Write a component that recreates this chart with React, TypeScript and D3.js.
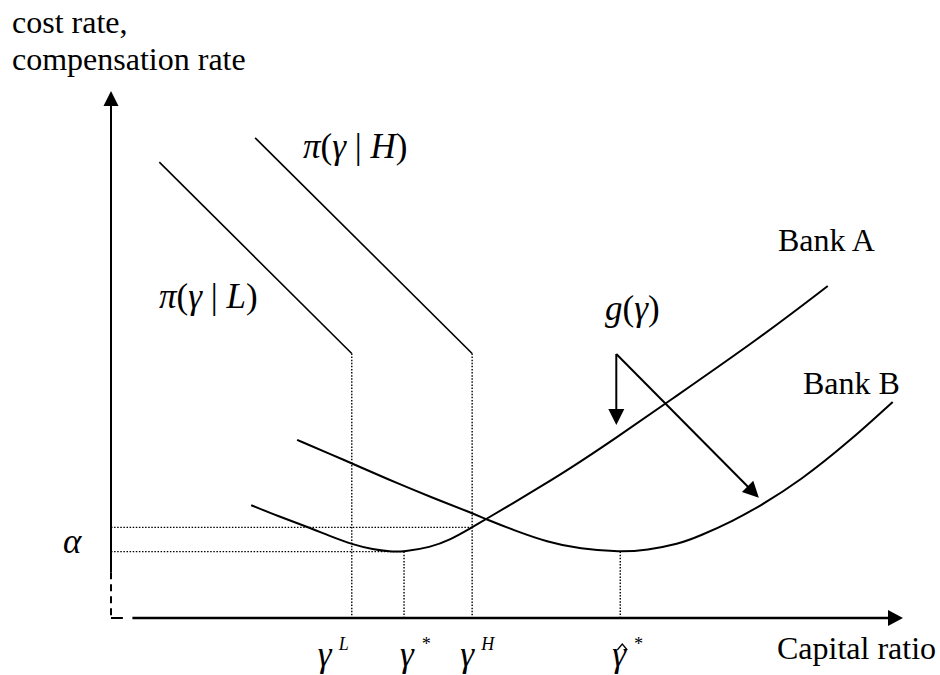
import React from "react";
import * as d3 from "d3";

const W = 940;
const H = 675;
const FONT = '"Liberation Serif", "Times New Roman", serif';

// schematic units: capital ratio 0..10 (x), rate 0..10 (y)
const bankAx = [1.77, 2.13, 2.48, 2.77, 3.06, 3.31, 3.52, 3.7, 4.03, 4.28, 4.56, 4.76, 5.08, 5.42, 5.77, 6.38, 7.01, 8.19, 9.05];
const bankAy = [2.14, 1.92, 1.73, 1.55, 1.39, 1.3, 1.26, 1.26, 1.34, 1.48, 1.72, 1.9, 2.18, 2.49, 2.81, 3.42, 4.08, 5.31, 6.3];
const bankBx = [2.35, 2.77, 3.23, 3.61, 4.03, 4.56, 4.76, 5.08, 5.51, 5.92, 6.43, 6.77, 7.16, 7.44, 7.85, 8.19, 8.7, 9.33, 9.87];
const bankBy = [3.38, 3.11, 2.81, 2.56, 2.3, 1.99, 1.86, 1.67, 1.44, 1.31, 1.25, 1.29, 1.4, 1.56, 1.84, 2.12, 2.6, 3.36, 4.1];

const piLx = [0.61, 3.04];
const piLy = [8.65, 5.02];
const piHx = [1.82, 4.56];
const piHy = [9.11, 5.02];

const gammaNames = ["L", "*", "H", "*"];
const gammaValues = [3.04, 3.7, 4.56, 6.43];
const gammaTops = [5.02, 1.26, 5.02, 1.26];
const gammaHat = [false, false, false, true];
const gammaShift = [-34, -4, -12, -8];

const crossLevels = [1.72, 1.26];
const crossEnds = [4.56, 3.7];

const gVertex = [6.38, 5.01];
const gTipX = [6.38, 8.18];
const gTipY = [3.66, 2.28];

const x = d3.scaleLinear().domain([0, 10]).range([111, 903]);
const y = d3.scaleLinear().domain([0, 10]).range([618, 91]);

function bankPath(xs: number[], ys: number[]) {
  const pts: [number, number][] = xs.map((v, i) => [x(v), y(ys[i])]);
  return d3.line().curve(d3.curveBasis)(pts) || "";
}

function head(tx: number, ty: number, fx: number, fy: number, len: number, hw: number) {
  const dx = tx - fx;
  const dy = ty - fy;
  const n = Math.hypot(dx, dy);
  const ux = dx / n;
  const uy = dy / n;
  const bx = tx - ux * len;
  const by = ty - uy * len;
  return `${tx},${ty} ${bx - uy * hw},${by + ux * hw} ${bx + uy * hw},${by - ux * hw}`;
}

export default function App() {
  const x0 = x(0);
  const y0 = y(0);
  const yTop = y(10);
  const xEnd = x(10);
  const dotted = { stroke: "#000", strokeWidth: 1.4, strokeDasharray: "1.5 1.6", fill: "none" };
  const txt = { fontFamily: FONT, fontSize: 32, fill: "#000" };
  const math = { fontFamily: FONT, fontSize: 35, fill: "#000" };

  return (
    <svg
      width={W}
      height={H}
      style={{ position: "absolute", left: 0, top: 0, background: "#fff" }}
    >
      <rect width={W} height={H} fill="#fff" />

      {/* axis titles */}
      <text x={12} y={33} style={txt}>cost rate,</text>
      <text x={12} y={70} style={txt}>compensation rate</text>
      <text x={777} y={659} style={txt}>Capital ratio</text>

      {/* y axis */}
      <line x1={x0} x2={x0} y1={yTop + 12} y2={y(0.87)} stroke="#000" strokeWidth={2} />
      <line x1={x0} x2={x0} y1={y(0.87)} y2={y0} stroke="#000" strokeWidth={2} strokeDasharray="7 5" />
      <polygon points={head(x0, yTop, x0, yTop + 20, 15, 7.5)} fill="#000" />

      {/* x axis */}
      <line x1={x0} x2={x(0.15)} y1={y0} y2={y0} stroke="#000" strokeWidth={2} />
      <line x1={x(0.27)} x2={xEnd - 12} y1={y0} y2={y0} stroke="#000" strokeWidth={2.5} />
      <polygon points={head(xEnd, y0, xEnd - 20, y0, 15, 8)} fill="#000" />

      {/* dotted guides */}
      {crossLevels.map((lv, i) => (
        <line key={"h" + i} x1={x0} x2={x(crossEnds[i])} y1={y(lv)} y2={y(lv)} style={dotted} />
      ))}
      {gammaValues.map((g, i) => (
        <line key={"v" + i} x1={x(g)} x2={x(g)} y1={y(gammaTops[i])} y2={y0} style={dotted} />
      ))}

      {/* pi lines */}
      <line x1={x(piLx[0])} y1={y(piLy[0])} x2={x(piLx[1])} y2={y(piLy[1])} stroke="#000" strokeWidth={1.6} />
      <line x1={x(piHx[0])} y1={y(piHy[0])} x2={x(piHx[1])} y2={y(piHy[1])} stroke="#000" strokeWidth={1.6} />

      {/* bank curves */}
      <path d={bankPath(bankAx, bankAy)} fill="none" stroke="#000" strokeWidth={2} />
      <path d={bankPath(bankBx, bankBy)} fill="none" stroke="#000" strokeWidth={2} />

      {/* g(gamma) arrows */}
      {gTipX.map((tx, i) => {
        const vx = x(gVertex[0]);
        const vy = y(gVertex[1]);
        const px = x(tx);
        const py = y(gTipY[i]);
        const n = Math.hypot(px - vx, py - vy);
        const ex = px - ((px - vx) / n) * 12;
        const ey = py - ((py - vy) / n) * 12;
        return (
          <g key={"g" + i}>
            <line x1={vx} y1={vy} x2={ex} y2={ey} stroke="#000" strokeWidth={2} />
            <polygon points={head(px, py, vx, vy, 16, 8)} fill="#000" />
          </g>
        );
      })}

      {/* labels */}
      <text x={303} y={158} style={math}>
        <tspan fontStyle="italic">π</tspan>(<tspan fontStyle="italic">γ</tspan> | <tspan fontStyle="italic">H</tspan>)
      </text>
      <text x={159} y={308} style={math}>
        <tspan fontStyle="italic">π</tspan>(<tspan fontStyle="italic">γ</tspan> | <tspan fontStyle="italic">L</tspan>)
      </text>
      <text x={605} y={320} style={math}>
        <tspan fontStyle="italic">g</tspan>(<tspan fontStyle="italic">γ</tspan>)
      </text>
      <text x={778} y={251} style={txt}>Bank A</text>
      <text x={803} y={394} style={txt}>Bank B</text>
      <text x={63} y={553} style={math} fontSize={33} fontStyle="italic">α</text>

      {gammaValues.map((g, i) => {
        const lx = x(g) + gammaShift[i];
        return (
          <g key={"t" + i}>
            <text x={lx} y={666} style={math} fontSize={33} fontStyle="italic">γ</text>
            {gammaHat[i] && (
              <polyline
                points={`${lx + 5},${650} ${lx + 10},${644} ${lx + 15},${650}`}
                fill="none"
                stroke="#000"
                strokeWidth={1.3}
              />
            )}
            <text x={lx + 21} y={650} fontFamily={FONT} fontSize={18} fontStyle="italic">
              {gammaNames[i]}
            </text>
          </g>
        );
      })}
    </svg>
  );
}
